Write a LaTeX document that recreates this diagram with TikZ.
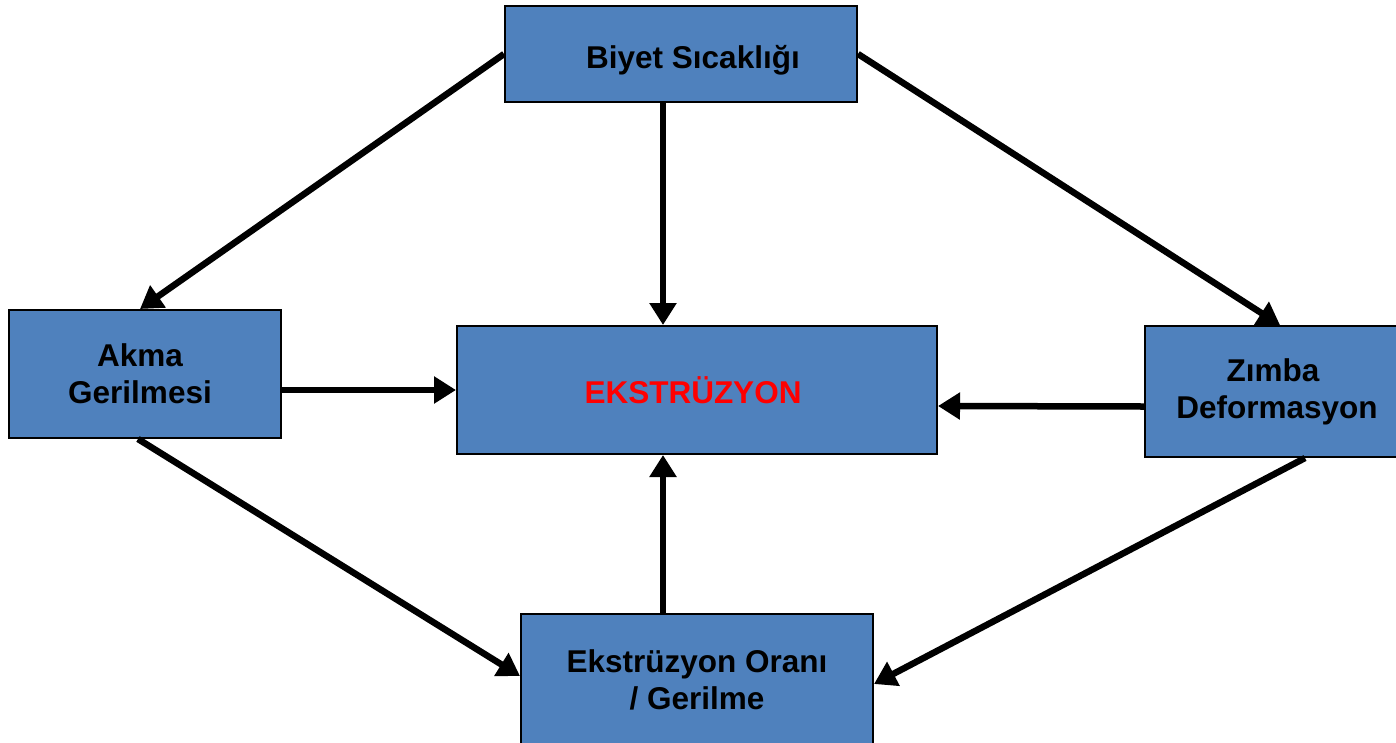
\documentclass[tikz,border=0pt]{standalone}
\usepackage{fontspec}
\setmainfont{Liberation Sans}
\usetikzlibrary{arrows.meta}
\definecolor{boxblue}{HTML}{4F81BD}
\begin{document}
\begin{tikzpicture}[x=1pt,y=-1pt,
  box/.style={draw=black,line width=2pt,fill=boxblue,inner sep=0pt,
    font=\fontsize{31.5}{37}\selectfont\bfseries,align=center},
  arr/.style={line width=6.5pt,-{Triangle[length=22pt,width=26pt]}}]
\useasboundingbox (0,0) rectangle (1396,742);
\node[box,minimum width=352pt,minimum height=96pt] (biyet) at (681,54) {\raisebox{-6pt}[\height][\depth]{\hspace*{24pt}Biyet Sıcaklığı}};
\node[box,minimum width=272pt,minimum height=128pt] (akma) at (145,374) {\hspace*{-10pt}Akma\\\hspace*{-10pt}Gerilmesi};
\node[box,minimum width=480pt,minimum height=128pt,text=red] (ekst) at (697,390) {\hspace*{-8pt}EKSTRÜZYON};
\node[box,minimum width=256pt,minimum height=131pt] (zimba) at (1273,391.5) {\hspace*{0pt}Zımba\\\hspace*{8pt}Deformasyon};
\node[box,minimum width=352pt,minimum height=140pt] (oran) at (697,684) {Ekstrüzyon Oranı\\/ Gerilme\rule[-9pt]{0pt}{1pt}};
\draw[arr] (biyet.west) -- ([xshift=-5pt]akma.north);
\draw[arr] ([xshift=-18pt]biyet.south) -- ([xshift=-34pt]ekst.north);
\draw[arr] (biyet.east) -- ([xshift=7pt]zimba.north);
\draw[arr] ([yshift=-16pt]akma.east) -- (ekst.west);
\draw[arr] ([yshift=-15pt]zimba.west) -- ([yshift=-16pt]ekst.east);
\draw[arr] ([xshift=-7pt]akma.south) -- ([yshift=8pt]oran.west);
\draw[arr] ([xshift=32pt]zimba.south) -- ([yshift=0pt]oran.east);
\draw[arr] ([xshift=-34pt]oran.north) -- ([xshift=-34pt]ekst.south);
\end{tikzpicture}
\end{document}
